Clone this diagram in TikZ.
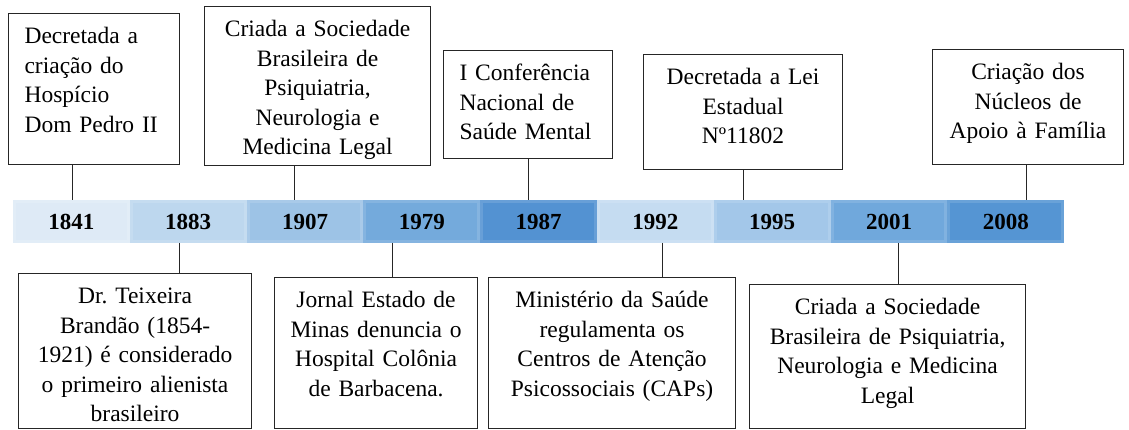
\documentclass[tikz,border=0pt]{standalone}
\usepackage{fontspec}
\setmainfont{Liberation Serif}
\usepackage{tikz}
\usetikzlibrary{positioning}
\definecolor{yrA}{HTML}{DEEAF6}
\definecolor{yrB}{HTML}{BDD7EE}
\definecolor{yrC}{HTML}{9DC3E6}
\definecolor{yrD}{HTML}{74AADC}
\definecolor{yrE}{HTML}{5392D2}
\definecolor{yrF}{HTML}{C5DCF1}
\definecolor{yrG}{HTML}{A3C7E9}
\definecolor{yrH}{HTML}{70A8DC}
\definecolor{yrI}{HTML}{5595D3}

\begin{document}
\begin{tikzpicture}[
    x=1pt,y=-1pt,thick,
  year/.style={minimum width=116.8pt,minimum height=43pt,inner sep=0pt,outer sep=0pt,
    fill=#1!88!white,font=\fontsize{23}{28}\selectfont\bfseries,
    path picture={\fill[#1] ([shift={(3pt,-3pt)}]path picture bounding box.north west)
      rectangle ([shift={(-3pt,3pt)}]path picture bounding box.south east);}},
  event/.style={draw=black!85,line width=1.1pt,anchor=north west,inner xsep=12pt,inner ysep=12pt,
    text height=18pt,font=\fontsize{23.5}{29.5}\selectfont,align=center},
  link/.style={draw=black!85,line width=1pt},
]

  \fill[white] (0,0) rectangle (1129,430);

  % the time line
  \node[year=yrA] (y1841) at (71.4,221.5) {1841};
  \node[year=yrB] (y1883) [right=0pt of y1841] {1883};
  \node[year=yrC] (y1907) [right=0pt of y1883] {1907};
  \node[year=yrD] (y1979) [right=0pt of y1907] {1979};
  \node[year=yrE] (y1987) [right=0pt of y1979] {1987};
  \node[year=yrF] (y1992) [right=0pt of y1987] {1992};
  \node[year=yrG] (y1995) [right=0pt of y1992] {1995};
  \node[year=yrH] (y2001) [right=0pt of y1995] {2001};
  \node[year=yrI] (y2008) [right=0pt of y2001] {2008};

  % events above
  \node[event,align=left,inner xsep=16pt,text width=139pt,text depth=109pt] (e1841) at (8,13)
    {Decretada a\\criação do\\Hospício\\Dom Pedro II};
  \node[event,text width=202pt,text depth=117pt] (e1907) at (204,6)
    {Criada a Sociedade\\Brasileira de\\Psiquiatria,\\Neurologia e\\Medicina Legal};
  \node[event,align=left,inner xsep=16pt,text width=137pt,text depth=66pt] (e1987) at (443,50)
    {I Conferência\\Nacional de\\Saúde Mental};
  \node[event,text width=175pt,text depth=73pt] (e1995) at (643,54)
    {Decretada a Lei\\Estadual\\Nº11802};
  \node[event,text width=167pt,text depth=73pt] (e2008) at (932,49)
    {Criação dos\\Núcleos de\\Apoio à Família};

  % events below
  \node[event,text width=209pt,text depth=113pt] (e1883) at (18,273)
    {Dr.\ Teixeira\\Brandão (1854-\\1921) é considerado\\o primeiro alienista\\brasileiro};
  \node[event,text width=179pt,text depth=109pt] (e1979) at (274,277)
    {Jornal Estado de\\Minas denuncia o\\Hospital Colônia\\de Barbacena.};
  \node[event,text width=223pt,text depth=109pt] (e1992) at (488,277)
    {Ministério da Saúde\\regulamenta os\\Centros de Atenção\\Psicossociais (CAPs)};
  \node[event,text width=252pt,text depth=102pt] (e2001) at (749,284)
    {Criada a Sociedade\\Brasileira de Psiquiatria,\\Neurologia e Medicina\\Legal};

  \draw[link] ([xshift=-21.5pt]e1841.south) to ([xshift=-21.5pt]e1841.south |- y1841.north);
  \draw[link] ([xshift=-23pt]e1907.south) to ([xshift=-23pt]e1907.south |- y1907.north);
  \draw[link] (e1987.south) to (e1987.south |- y1987.north);
  \draw[link] (e1995.south) to (e1995.south |- y1995.north);
  \draw[link] ([xshift=-1.5pt]e2008.south) to ([xshift=-1.5pt]e2008.south |- y2008.north);

  \draw[link] ([xshift=44.5pt]e1883.north |- y1883.south) to ([xshift=44.5pt]e1883.north);
  \draw[link] ([xshift=16.5pt]e1979.north |- y1979.south) to ([xshift=16.5pt]e1979.north);
  \draw[link] ([xshift=50.5pt]e1992.north |- y1992.south) to ([xshift=50.5pt]e1992.north);
  \draw[link] ([xshift=11pt]e2001.north |- y2001.south) to ([xshift=11pt]e2001.north);
\end{tikzpicture}
\end{document}
